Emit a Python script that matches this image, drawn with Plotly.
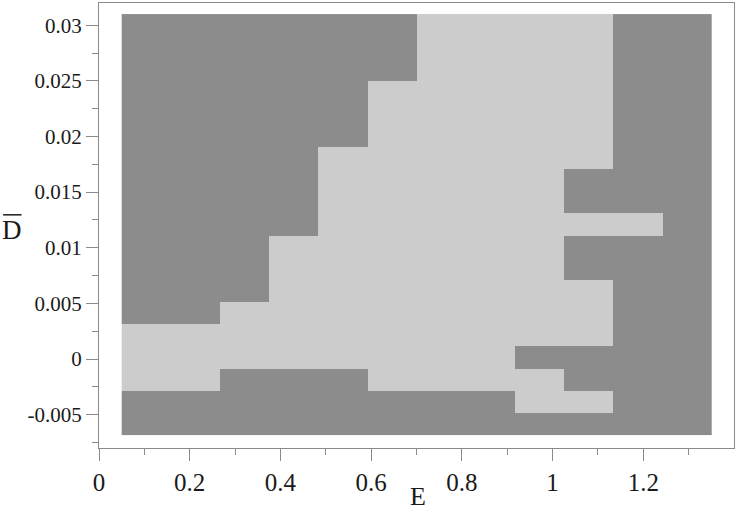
import plotly.graph_objects as go

# grid cell centres
E = [0.1042, 0.2125, 0.3208, 0.4292, 0.5375, 0.6458,
     0.7542, 0.8625, 0.9708, 1.0792, 1.1875, 1.2958]
D_bar = [-0.00581, -0.00382, -0.00183, 0.00016, 0.00215, 0.00414, 0.00613,
         0.00812, 0.01011, 0.01210, 0.01409, 0.01608, 0.01807, 0.02006,
         0.02205, 0.02404, 0.02603, 0.02802, 0.03001]

# 1 = light region, 0 = dark region; first row is the bottom one
region = [
    [0, 0, 0, 0, 0, 0, 0, 0, 0, 0, 0, 0],
    [0, 0, 0, 0, 0, 0, 0, 0, 1, 1, 0, 0],
    [1, 1, 0, 0, 0, 1, 1, 1, 1, 0, 0, 0],
    [1, 1, 1, 1, 1, 1, 1, 1, 0, 0, 0, 0],
    [1, 1, 1, 1, 1, 1, 1, 1, 1, 1, 0, 0],
    [0, 0, 1, 1, 1, 1, 1, 1, 1, 1, 0, 0],
    [0, 0, 0, 1, 1, 1, 1, 1, 1, 1, 0, 0],
    [0, 0, 0, 1, 1, 1, 1, 1, 1, 0, 0, 0],
    [0, 0, 0, 1, 1, 1, 1, 1, 1, 0, 0, 0],
    [0, 0, 0, 0, 1, 1, 1, 1, 1, 1, 1, 0],
    [0, 0, 0, 0, 1, 1, 1, 1, 1, 0, 0, 0],
    [0, 0, 0, 0, 1, 1, 1, 1, 1, 0, 0, 0],
    [0, 0, 0, 0, 1, 1, 1, 1, 1, 1, 0, 0],
    [0, 0, 0, 0, 0, 1, 1, 1, 1, 1, 0, 0],
    [0, 0, 0, 0, 0, 1, 1, 1, 1, 1, 0, 0],
    [0, 0, 0, 0, 0, 1, 1, 1, 1, 1, 0, 0],
    [0, 0, 0, 0, 0, 0, 1, 1, 1, 1, 0, 0],
    [0, 0, 0, 0, 0, 0, 1, 1, 1, 1, 0, 0],
    [0, 0, 0, 0, 0, 0, 1, 1, 1, 1, 0, 0],
]

x_ticks = [0, 0.2, 0.4, 0.6, 0.8, 1, 1.2]
x_labels = ['0', '0.2', '0.4', '0.6', '0.8', '1', '1.2']
y_ticks = [-0.005, 0, 0.005, 0.01, 0.015, 0.02, 0.025, 0.03]
y_labels = ['-0.005', '0', '0.005', '0.01', '0.015', '0.02', '0.025', '0.03']

serif = 'Liberation Serif'
ink = '#1a1a1a'
axis_col = '#8a8a8a'

fig = go.Figure(
    go.Heatmap(
        x=E, y=D_bar, z=region,
        zmin=0, zmax=1,
        colorscale=[[0, '#8c8c8c'], [1, '#cccccc']],
        showscale=False,
        hoverinfo='skip'
    )
)

fig.update_layout(
    width=736, height=514,
    margin=dict(l=99, r=2, t=3, b=66),
    paper_bgcolor='white',
    plot_bgcolor='white',
    font=dict(family=serif, size=21, color=ink),
    xaxis=dict(
        range=[0, 1.4], tickvals=x_ticks, ticktext=x_labels,
        tickfont=dict(family=serif, size=25, color=ink),
        ticks='outside', ticklen=12, tickcolor=axis_col,
        showline=True, linecolor=axis_col, linewidth=1, mirror=True,
        showgrid=False, zeroline=False,
        minor=dict(ticks='outside', ticklen=6, tickcolor=axis_col,
                   tick0=0.1, dtick=0.2, showgrid=False),
    ),
    yaxis=dict(
        range=[-0.008, 0.032], tickvals=y_ticks, ticktext=y_labels,
        tickfont=dict(family=serif, size=21, color=ink),
        ticks='outside', ticklen=12, tickcolor=axis_col,
        showline=True, linecolor=axis_col, linewidth=1, mirror=True,
        showgrid=False, zeroline=False,
        minor=dict(ticks='outside', ticklen=6, tickcolor=axis_col,
                   tick0=-0.0075, dtick=0.005, showgrid=False),
    ),
    annotations=[
        dict(text='E', xref='paper', yref='paper', x=0.502, y=-0.145,
             xanchor='center', yanchor='bottom', showarrow=False,
             font=dict(family=serif, size=26, color=ink)),
        dict(text='D', xref='paper', yref='paper', x=-0.137, y=0.49,
             xanchor='center', yanchor='middle', showarrow=False,
             font=dict(family=serif, size=27, color=ink)),
    ],
    shapes=[
        dict(type='line', xref='paper', yref='paper',
             x0=-0.151, x1=-0.122, y0=0.524, y1=0.524,
             line=dict(color=ink, width=1.5)),
    ],
)

# the page's default 8px body margin would shift the figure
fig.write_html("out.html", config={'displayModeBar': False},
               post_script="document.body.style.margin='0';")
